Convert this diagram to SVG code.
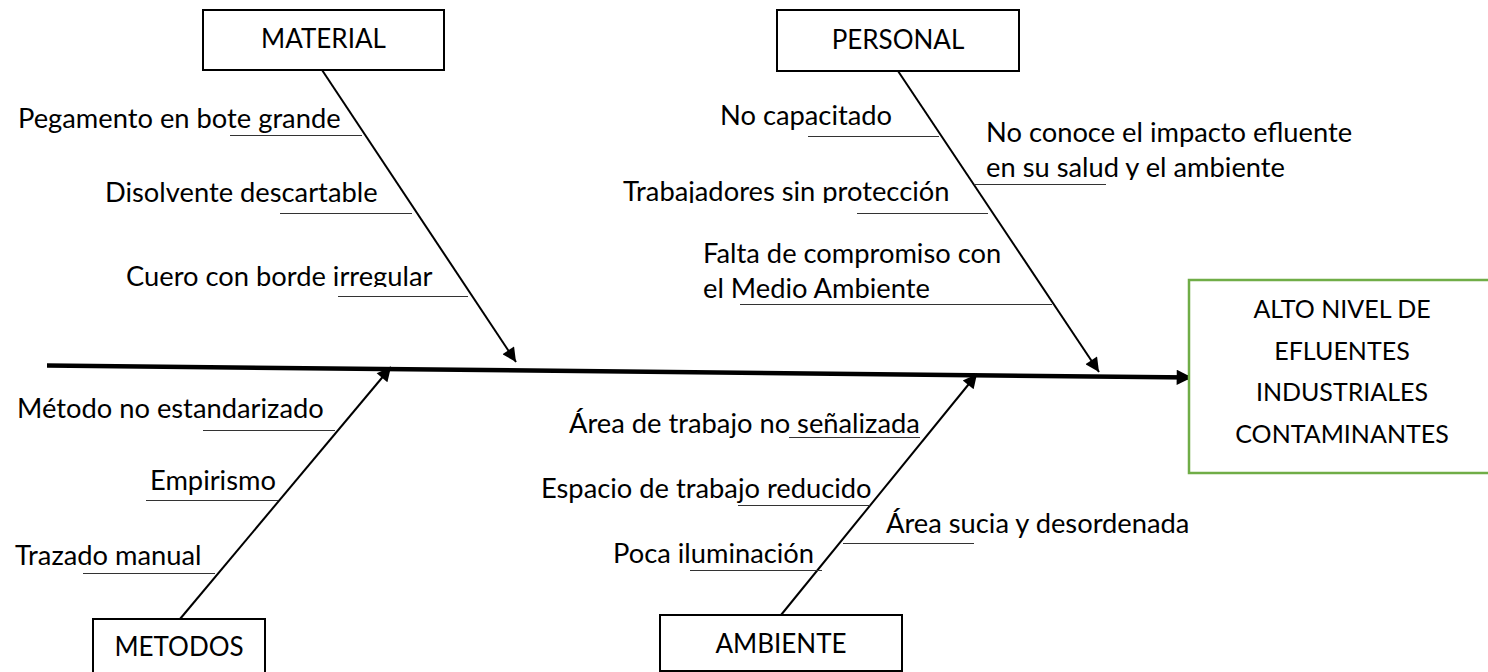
<svg xmlns="http://www.w3.org/2000/svg" width="1488" height="672" viewBox="0 0 1488 672">
<style>
text{font-family:Lato,"Liberation Sans",sans-serif;font-size:27.3px;fill:#000}
.c{text-anchor:middle;font-size:26px}
.e{text-anchor:middle;font-size:25px}
.box{fill:#fff;stroke:#000;stroke-width:2}
.eff{fill:#fff;stroke:#70AD47;stroke-width:2.5}
.bone{stroke:#000;stroke-width:2;fill:none}
.spine{stroke:#000;stroke-width:4.5;fill:none}
.sub{stroke:#333;stroke-width:1;fill:none}
</style>
<defs>
<marker id="ah" viewBox="0 0 10 10" refX="10" refY="5" markerWidth="8" markerHeight="7" markerUnits="strokeWidth" orient="auto"><path d="M0,0L10,5L0,10z" fill="#000"/></marker>
<marker id="ahs" viewBox="0 0 10 10" refX="10" refY="5" markerWidth="3.6" markerHeight="3.4" markerUnits="strokeWidth" orient="auto"><path d="M0,0L10,5L0,10z" fill="#000"/></marker>
<clipPath id="clipCuero"><rect x="0" y="0" width="600" height="287"/></clipPath>
<clipPath id="clipSalud"><rect x="900" y="150" width="500" height="30"/></clipPath>
<clipPath id="clipTrab"><rect x="600" y="170" width="400" height="33"/></clipPath>
</defs>
<g id="connectors">
<line class="spine" x1="47" y1="365.5" x2="1192" y2="377.5" marker-end="url(#ahs)"/>
<line class="bone" x1="322" y1="70" x2="516" y2="362" marker-end="url(#ah)"/>
<line class="bone" x1="898" y1="71" x2="1099" y2="372" marker-end="url(#ah)"/>
<line class="bone" x1="180" y1="619" x2="391" y2="367" marker-end="url(#ah)"/>
<line class="bone" x1="781" y1="615" x2="977" y2="374" marker-end="url(#ah)"/>
<line class="sub" x1="230" y1="135.5" x2="362" y2="135.5"/>
<line class="sub" x1="280" y1="213.5" x2="412" y2="213.5"/>
<line class="sub" x1="338" y1="296.5" x2="468" y2="296.5"/>
<line class="sub" x1="808" y1="136.5" x2="939" y2="136.5"/>
<line class="sub" x1="974" y1="184.5" x2="1106" y2="184.5"/>
<line class="sub" x1="857" y1="213.5" x2="988" y2="213.5"/>
<line class="sub" x1="740" y1="304.5" x2="1052" y2="304.5"/>
<line class="sub" x1="203" y1="430.5" x2="335" y2="430.5"/>
<line class="sub" x1="146" y1="500.5" x2="278" y2="500.5"/>
<line class="sub" x1="83" y1="573.5" x2="215" y2="573.5"/>
<line class="sub" x1="789" y1="437.5" x2="920" y2="437.5"/>
<line class="sub" x1="738" y1="505.5" x2="870" y2="505.5"/>
<line class="sub" x1="843" y1="543.5" x2="974" y2="543.5"/>
<line class="sub" x1="690" y1="570.5" x2="822" y2="570.5"/>
</g>
<g id="material">
<rect class="box" x="203" y="10" width="241" height="60"/>
<text class="c" x="323.5" y="48">MATERIAL</text>
</g>
<g id="personal">
<rect class="box" x="777" y="10" width="242" height="61"/>
<text class="c" x="898" y="49">PERSONAL</text>
</g>
<g id="metodos">
<rect class="box" x="93" y="619" width="172" height="70"/>
<text class="c" x="179" y="656">METODOS</text>
</g>
<g id="ambiente">
<rect class="box" x="660" y="615" width="242" height="56"/>
<text class="c" x="781" y="653">AMBIENTE</text>
</g>
<g id="efecto">
<rect class="eff" x="1189" y="280" width="330" height="193"/>
<text class="e" x="1342" y="318">ALTO NIVEL DE</text>
<text class="e" x="1342" y="360">EFLUENTES</text>
<text class="e" x="1342" y="401">INDUSTRIALES</text>
<text class="e" x="1342" y="443">CONTAMINANTES</text>
</g>
<g id="causas-material">
<text x="18" y="128">Pegamento en bote grande</text>
<text x="105" y="201.5">Disolvente descartable</text>
<text x="126" y="286" clip-path="url(#clipCuero)">Cuero con borde irregular</text>
</g>
<g id="causas-personal">
<text x="720" y="125">No capacitado</text>
<text x="986" y="141.5">No conoce el impacto efluente</text>
<text x="986" y="176.5" clip-path="url(#clipSalud)">en su salud y el ambiente</text>
<text x="623" y="201" clip-path="url(#clipTrab)">Trabajadores sin protección</text>
<text x="703" y="263">Falta de compromiso con</text>
<text x="703" y="298">el Medio Ambiente</text>
</g>
<g id="causas-metodos">
<text x="17" y="418">Método no estandarizado</text>
<text x="150" y="490">Empirismo</text>
<text x="15" y="565">Trazado manual</text>
</g>
<g id="causas-ambiente">
<text x="569" y="432.5">Área de trabajo no señalizada</text>
<text x="541" y="497.5">Espacio de trabajo reducido</text>
<text x="886" y="533">Área sucia y desordenada</text>
<text x="613" y="563">Poca iluminación</text>
</g>
</svg>
